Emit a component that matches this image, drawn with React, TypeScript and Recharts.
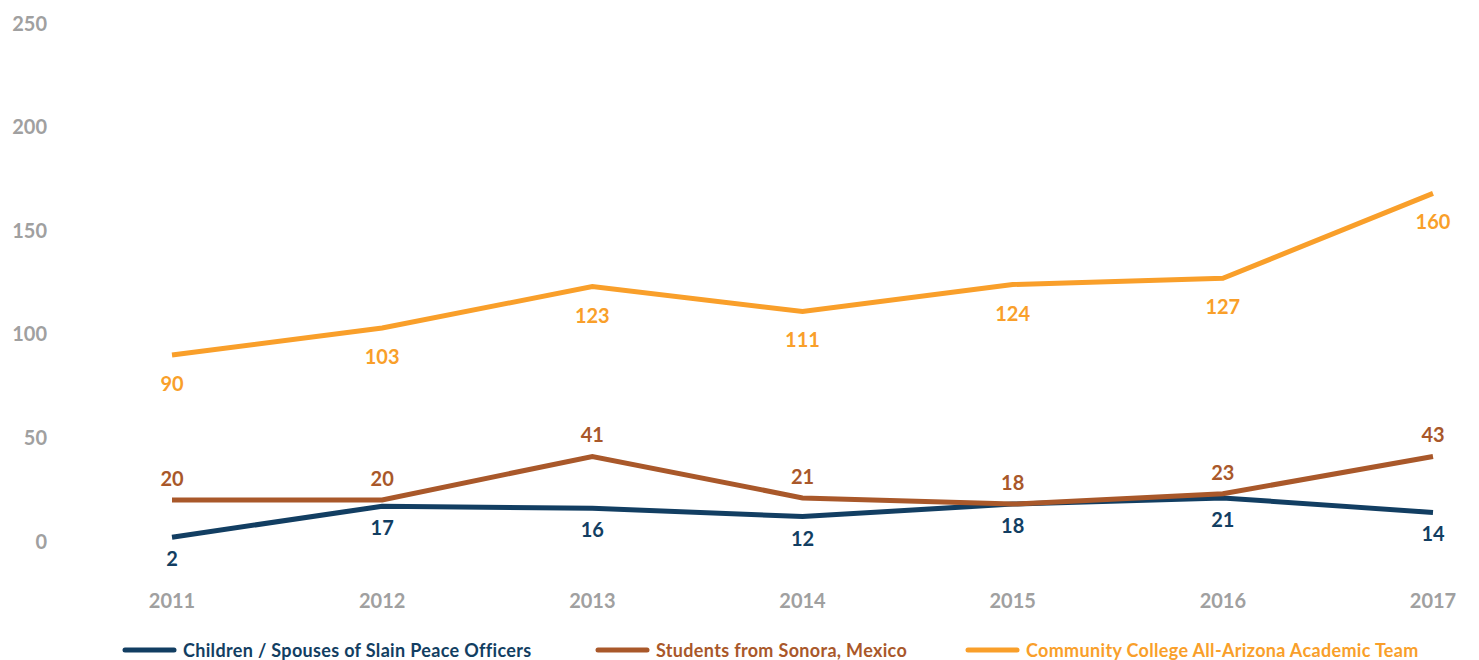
import React from 'react';
import { LineChart, Line, XAxis, YAxis, Legend, LabelList } from 'recharts';

const years = ['2011', '2012', '2013', '2014', '2015', '2016', '2017'];
const officers = [2, 17, 16, 12, 18, 21, 14];
const sonora = [20, 20, 41, 21, 18, 23, 41];
const sonoraLabels = ['20', '20', '41', '21', '18', '23', '43'];
const allArizona = [90, 103, 123, 111, 124, 127, 168];
const allArizonaLabels = ['90', '103', '123', '111', '124', '127', '160'];
const officerLabels = ['2', '17', '16', '12', '18', '21', '14'];
const yTicks = [0, 50, 100, 150, 200, 250];

const seriesNames = [
  'Children / Spouses of Slain Peace Officers',
  'Students from Sonora, Mexico',
  'Community College All-Arizona Academic Team',
];

const BLUE = '#123e62';
const BROWN = '#a9582a';
const ORANGE = '#f99f2a';
const GRAY = '#a0a0a0';
const FONT = 'Lato, "Open Sans", sans-serif';

const data = years.map((y, i) => ({
  year: y,
  officers: officers[i],
  sonora: sonora[i],
  allArizona: allArizona[i],
  officersLabel: officerLabels[i],
  sonoraLabel: sonoraLabels[i],
  allArizonaLabel: allArizonaLabels[i],
}));

const makeLabel = (color: string, dy: number, labels: string[]) => (props: any) => {
  const { x, y, index } = props;
  return (
    <text
      x={x}
      y={y + dy}
      fill={color}
      textAnchor="middle"
      dominantBaseline="central"
      fontFamily={FONT}
      fontWeight={700}
      fontSize={20}
    >
      {labels[index]}
    </text>
  );
};

const legendLefts = [122, 595, 965];
const legendColors = [BLUE, BROWN, ORANGE];

const renderLegend = () => (
  <div style={{ position: 'relative', width: 1479, height: 38 }}>
    {seriesNames.map((name, i) => (
      <div
        key={name}
        style={{
          position: 'absolute',
          left: legendLefts[i],
          top: 18,
          display: 'flex',
          alignItems: 'center',
          height: 20,
        }}
      >
        <svg width={55} height={8} style={{ display: 'block' }}>
          <line x1={3} y1={4} x2={52} y2={4} stroke={legendColors[i]} strokeWidth={5} strokeLinecap="round" />
        </svg>
        <span
          style={{
            marginLeft: 6,
            color: legendColors[i],
            fontFamily: FONT,
            fontWeight: 700,
            fontSize: 18,
            letterSpacing: 0.33,
            whiteSpace: 'nowrap',
          }}
        >
          {name}
        </span>
      </div>
    ))}
  </div>
);

export default function App() {
  return (
    <div style={{ position: 'absolute', left: 0, top: 0, width: 1479, height: 660, background: '#fff' }}>
      <LineChart
        width={1479}
        height={660}
        data={data}
        margin={{ top: 23.5, right: 16, left: 0, bottom: 0 }}
      >
        <XAxis
          dataKey="year"
          axisLine={false}
          tickLine={false}
          tickSize={0}
          tickMargin={52}
          height={80.6}
          padding={{ left: 112, right: 30 }}
          tick={{ fill: GRAY, fontFamily: FONT, fontWeight: 700, fontSize: 20 }}
          interval={0}
        />
        <YAxis
          domain={[0, 250]}
          ticks={yTicks}
          axisLine={false}
          tickLine={false}
          tickSize={0}
          tickMargin={13}
          width={60}
          tick={{ fill: GRAY, fontFamily: FONT, fontWeight: 700, fontSize: 20 }}
        />
        <Legend verticalAlign="bottom" height={38} content={renderLegend} wrapperStyle={{ left: 0, width: 1479 }} />
        <Line
          type="linear"
          dataKey="officers"
          name={seriesNames[0]}
          stroke={BLUE}
          strokeWidth={5}
          dot={false}
          isAnimationActive={false}
        >
          <LabelList dataKey="officersLabel" content={makeLabel(BLUE, 21, officerLabels)} />
        </Line>
        <Line
          type="linear"
          dataKey="sonora"
          name={seriesNames[1]}
          stroke={BROWN}
          strokeWidth={5}
          dot={false}
          isAnimationActive={false}
        >
          <LabelList dataKey="sonoraLabel" content={makeLabel(BROWN, -22, sonoraLabels)} />
        </Line>
        <Line
          type="linear"
          dataKey="allArizona"
          name={seriesNames[2]}
          stroke={ORANGE}
          strokeWidth={5}
          dot={false}
          isAnimationActive={false}
        >
          <LabelList dataKey="allArizonaLabel" content={makeLabel(ORANGE, 28, allArizonaLabels)} />
        </Line>
      </LineChart>
    </div>
  );
}
